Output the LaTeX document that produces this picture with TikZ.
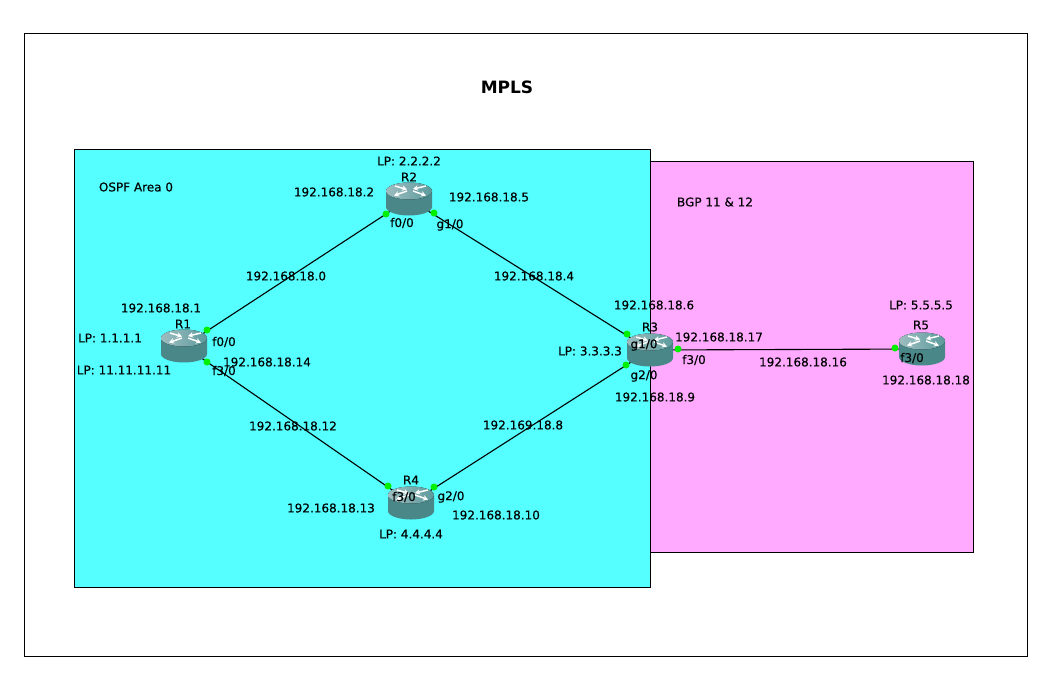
\documentclass[tikz,border=0pt]{standalone}
\usepackage{fontspec}
\usepackage{xcolor}
\setmainfont{DejaVu Sans}
\newfontfamily\lblfont[FakeBold=0.35]{DejaVu Sans}
\definecolor{areacyan}{HTML}{55FFFF}
\definecolor{areapink}{HTML}{FFAAFF}
\definecolor{portgreen}{HTML}{00F000}
\definecolor{routerside}{HTML}{4A8789}
\definecolor{routertopa}{HTML}{9DBDC0}
\definecolor{routertopb}{HTML}{5C9A9C}
\usetikzlibrary{arrows.meta}
\tikzset{
    area/.style={draw=black, line width=0.9pt, inner sep=0pt},
    routerbox/.style={inner sep=0pt, minimum width=46pt, minimum height=32pt},
    port/.style={circle, fill=portgreen, inner sep=0pt, minimum size=7pt},
    link/.style={draw=black, line width=1.1pt},
    lbl/.style={inner sep=0pt, font=\fontsize{12}{14}\selectfont\lblfont},
    arrowline/.style={draw=white, line width=1.5pt, -{Stealth[length=5pt,width=5.5pt]}}
}
% router icon drawn at a node that is already placed
\newcommand{\routericon}[1]{
    \begin{scope}[shift={(#1.center)}]
        \fill[routerside] (-23,-8) -- (-23,8) arc[start angle=180, end angle=0, x radius=23, y radius=8.5] -- (23,-8) -- cycle;
        \fill[left color=routertopa, right color=routertopb] (0,-8) ellipse[x radius=23, y radius=8.5];
        \draw[arrowline] (-14,-13) -- (-2,-9.5);
        \draw[arrowline] (4,-8) -- (17,-3.5);
        \draw[arrowline] (-2,-8) -- (-15,-3.5);
        \draw[arrowline] (17,-13) -- (4,-10);
    \end{scope}
}
\begin{document}
\begin{tikzpicture}[x=1pt, y=-1pt]
    \useasboundingbox (0,0) rectangle (1054,694);

    % Frames
    \node[area, fill=white, minimum width=1003pt, minimum height=623pt] (frame) at (525.5,344.5) {};
    \node[area, fill=areapink, minimum width=324pt, minimum height=391pt] (bgp) at (811,356.5) {};
    \node[area, fill=areacyan, minimum width=576pt, minimum height=438pt] (ospf) at (362,368) {};

    % Routers
    \node[routerbox] (R1) at (184,346) {};
    \node[routerbox] (R2) at (409,199) {};
    \node[routerbox] (R3) at (650,350) {};
    \node[routerbox] (R4) at (411,503) {};
    \node[routerbox] (R5) at (922,349) {};

    % Links
    \draw[link] (R1.center) -- (R2.center);
    \draw[link] (R2.center) -- (R3.center);
    \draw[link] (R1.center) -- (R4.center);
    \draw[link] (R4.center) -- (R3.center);
    \draw[link] (R3.center) -- (R5.center);

    \routericon{R1}
    \routericon{R2}
    \routericon{R3}
    \routericon{R4}
    \routericon{R5}

    % Ports
    \node[port] (p1a) at (207,330) {};
    \node[port] (p1b) at (207,362) {};
    \node[port] (p2a) at (386,214) {};
    \node[port] (p2b) at (434,213) {};
    \node[port] (p3a) at (627,334) {};
    \node[port] (p3b) at (626,365) {};
    \node[port] (p3c) at (678,349) {};
    \node[port] (p4a) at (388,486) {};
    \node[port] (p4b) at (434,487) {};
    \node[port] (p5a) at (895,348) {};

    % Titles
    \node[inner sep=0pt, font=\fontsize{17}{20}\selectfont\bfseries] (title) at (507,87) {MPLS};
    \node[lbl] (ospfname) at (136,187) {OSPF Area 0};
    \node[lbl] (bgpname) at (715,202) {BGP 11 \& 12};

    % Labels around R1
    \node[lbl] (r1name) at (183,324) {R1};
    \node[lbl] (r1ip) at (161,308) {192.168.18.1};
    \node[lbl] (r1lpa) at (110,338) {LP: 1.1.1.1};
    \node[lbl] (r1lpb) at (124,370) {LP: 11.11.11.11};
    \node[lbl] (r1f0) at (224,342) {f0/0};
    \node[lbl] (r1f3) at (224,371) {f3/0};
    \node[lbl] (r1ipb) at (267,362) {192.168.18.14};

    % Labels around R2
    \node[lbl] (r2lp) at (409,161) {LP: 2.2.2.2};
    \node[lbl] (r2name) at (409,177) {R2};
    \node[lbl] (r2ipa) at (334,192) {192.168.18.2};
    \node[lbl] (r2ipb) at (489,197) {192.168.18.5};
    \node[lbl] (r2f0) at (402,223) {f0/0};
    \node[lbl] (r2g1) at (450,225) {g1/0};

    % Labels around R3
    \node[lbl] (r3ipa) at (654,305) {192.168.18.6};
    \node[lbl] (r3name) at (650,327) {R3};
    \node[lbl] (r3g1) at (644,345) {g1/0};
    \node[lbl] (r3lp) at (590,351) {LP: 3.3.3.3};
    \node[lbl] (r3ipb) at (719,337) {192.168.18.17};
    \node[lbl] (r3f3) at (694,360) {f3/0};
    \node[lbl] (r3g2) at (644,376) {g2/0};
    \node[lbl] (r3ipc) at (655,397) {192.168.18.9};

    % Labels around R4
    \node[lbl] (r4name) at (411,480) {R4};
    \node[lbl] (r4f3) at (404,497) {f3/0};
    \node[lbl] (r4g2) at (451,497) {g2/0};
    \node[lbl] (r4ipa) at (331,508) {192.168.18.13};
    \node[lbl] (r4ipb) at (496,515) {192.168.18.10};
    \node[lbl] (r4lp) at (411,534) {LP: 4.4.4.4};

    % Labels around R5
    \node[lbl] (r5lp) at (921,305) {LP: 5.5.5.5};
    \node[lbl] (r5name) at (921,325) {R5};
    \node[lbl] (r5f3) at (912,358) {f3/0};
    \node[lbl] (r5ip) at (926,380) {192.168.18.18};

    % Networks
    \node[lbl] (net0) at (286,276) {192.168.18.0};
    \node[lbl] (net4) at (534,276) {192.168.18.4};
    \node[lbl] (net12) at (293,426) {192.168.18.12};
    \node[lbl] (net8) at (523,425) {192.169.18.8};
    \node[lbl] (net16) at (803,362) {192.168.18.16};
\end{tikzpicture}
\end{document}
